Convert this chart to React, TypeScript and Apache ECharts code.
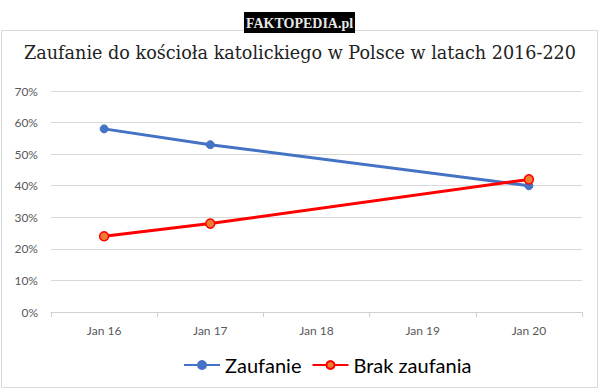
import React, { useEffect, useRef } from "react";
import * as echarts from "echarts";

const categories = ["Jan 16", "Jan 17", "Jan 18", "Jan 19", "Jan 20"];
const zaufanie = [58, 53, null, null, 40];
const brakZaufania = [24, 28, null, null, 42];
const yTicks = [0, 10, 20, 30, 40, 50, 60, 70];

export default function App() {
  const ref = useRef<HTMLDivElement>(null);
  useEffect(() => {
    document.body.style.margin = "0";
    const chart = echarts.init(ref.current!, null, { renderer: "svg" });
    chart.setOption({
      animation: false,
      backgroundColor: "#ffffff",
      graphic: [
        {
          type: "rect",
          shape: { x: 1.5, y: 30.5, width: 596, height: 357 },
          style: { fill: "none", stroke: "#d9d9d9", lineWidth: 1 },
          z: 0,
        },
        {
          type: "rect",
          shape: { x: 244, y: 12, width: 111, height: 21 },
          style: { fill: "#000000" },
          z: 10,
        },
        {
          type: "text",
          x: 299.5,
          y: 23,
          style: {
            text: "FAKTOPEDIA.pl",
            fill: "#e8e8e8",
            font: "bold 14px 'Liberation Serif', serif",
            textAlign: "center",
            textVerticalAlign: "middle",
          },
          z: 11,
        },
      ],
      title: {
        text: "Zaufanie do kościoła katolickiego w Polsce w latach 2016-220",
        left: "center",
        top: 39,
        textStyle: {
          fontFamily: "'DejaVu Serif', serif",
          fontSize: 17.6,
          fontWeight: "normal",
          color: "#222222",
        },
      },
      legend: {
        left: 178,
        top: 350,
        itemWidth: 36,
        itemHeight: 10,
        itemGap: 10,
        textStyle: { fontFamily: "Lato, 'Open Sans', sans-serif", fontSize: 20, color: "#000000" },
        data: ["Zaufanie", "Brak zaufania"],
      },
      grid: { left: 51, right: 18, top: 91, bottom: 78 },
      xAxis: {
        type: "category",
        data: categories,
        boundaryGap: true,
        axisLine: { lineStyle: { color: "#d0d0d0", width: 1 } },
        axisTick: { show: true, length: 5, lineStyle: { color: "#d0d0d0" } },
        axisLabel: { color: "#595959", fontSize: 12, fontFamily: "Lato, sans-serif", margin: 12 },
      },
      yAxis: {
        type: "value",
        min: 0,
        max: 70,
        interval: 10,
        axisLine: { show: false },
        axisTick: { show: false },
        splitLine: { lineStyle: { color: "#d9d9d9", width: 1 } },
        axisLabel: {
          color: "#595959",
          fontSize: 12,
          fontFamily: "Lato, sans-serif",
          margin: 13,
          formatter: (v: number) => (yTicks.includes(v) ? v + "%" : ""),
        },
      },
      series: [
        {
          name: "Zaufanie",
          type: "line",
          data: zaufanie,
          connectNulls: true,
          symbol: "circle",
          symbolSize: 8,
          lineStyle: { color: "#4472c4", width: 3 },
          itemStyle: { color: "#4472c4", borderColor: "#4472c4", borderWidth: 1 },
          z: 2,
        },
        {
          name: "Brak zaufania",
          type: "line",
          data: brakZaufania,
          connectNulls: true,
          symbol: "circle",
          symbolSize: 9,
          lineStyle: { color: "#ff0000", width: 3 },
          itemStyle: { color: "#ed7d31", borderColor: "#ff0000", borderWidth: 1.5 },
          z: 3,
        },
      ],
    });
    return () => chart.dispose();
  }, []);
  return <div ref={ref} style={{ width: 600, height: 390 }} />;
}
